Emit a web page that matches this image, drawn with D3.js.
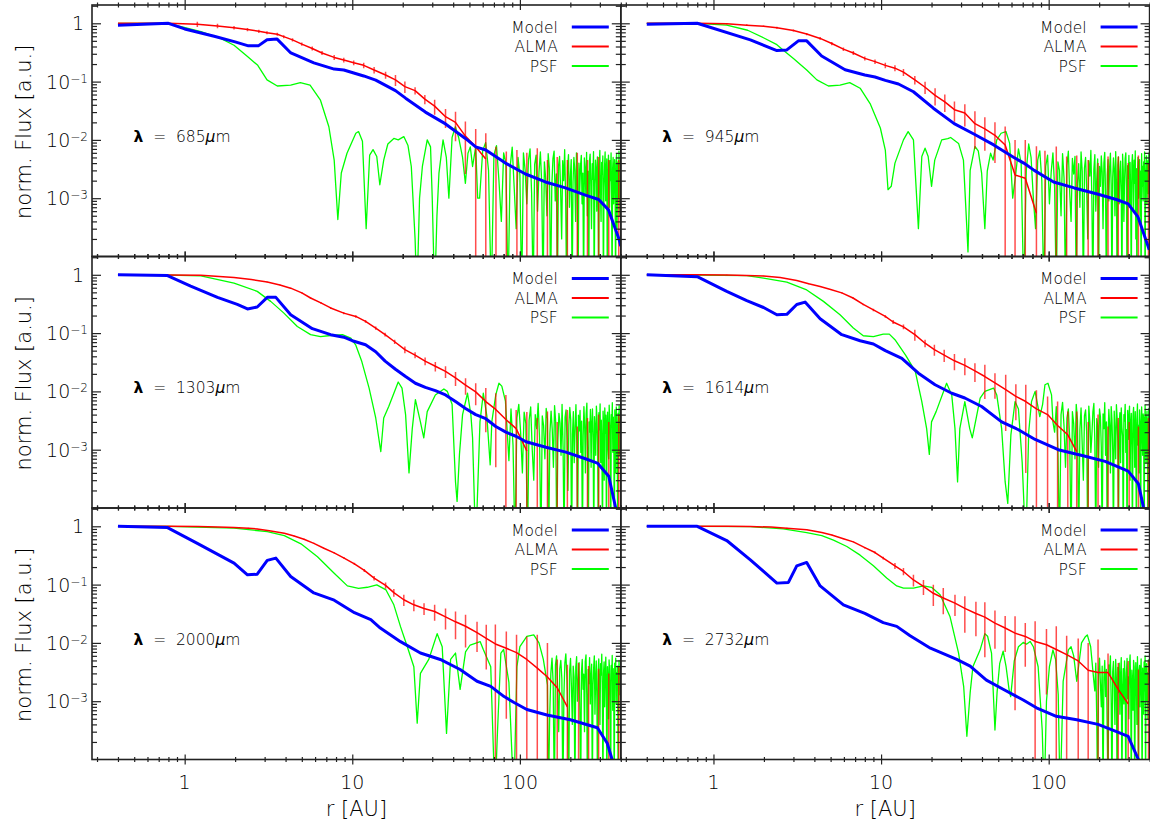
<!DOCTYPE html>
<html>
<head>
<meta charset="utf-8">
<script src="https://cdn.jsdelivr.net/npm/d3@7"></script>
<style>
  body { margin: 0; background: #fff; }
  text { font-family: "DejaVu Sans", "Liberation Sans", sans-serif; font-weight: 200; fill: #000; }
</style>
</head>
<body>
<svg id="chart" width="1150" height="826"></svg>
<script>
// ---------------------------------------------------------------------------
// Radial profiles of a disk at six ALMA wavelengths.
// Each profile point is [r in AU, normalised flux]; ALMA points carry a 1-sigma error.
// ---------------------------------------------------------------------------

const wavelengths = [685, 945, 1303, 1614, 2000, 2732]; // micron
const legendLabels = ["Model", "ALMA", "PSF"];
const xMajorTicks = [1, 10, 100];
const xTickLabels = ["1", "10", "100"];
const yMajorTicks = [1, 0.1, 0.01, 0.001];
const yTickExponents = [0, -1, -2, -3];

// ---- Model (blue) ----
const model685 = [[0.4,0.93],[0.8,1.0],[1.0,0.8],[1.5,0.6],[2.0,0.48],[2.4,0.41],[2.75,0.41],[3.1,0.52],[3.55,0.54],[4.3,0.31],[5.9,0.21],[7.8,0.164],[8.9,0.158],[11.7,0.125],[13.8,0.106],[18.1,0.07],[20.8,0.052],[27.3,0.030],[36,0.0188],[47.3,0.0106],[54.5,0.0076],[62.6,0.0067],[82,0.0040],[108,0.0026],[142,0.0019],[187,0.0015],[246,0.00113],[295,0.00095],[338,0.00063],[390,0.0002],[400,0.00015]];
const model945 = [[0.4,0.96],[0.8,1.0],[1.66,0.52],[2.39,0.34],[2.74,0.35],[3.21,0.5],[3.6,0.5],[4.42,0.275],[6.1,0.16],[8.0,0.13],[9.2,0.12],[10.6,0.105],[12.7,0.091],[15.6,0.067],[20.5,0.035],[27.3,0.019],[36,0.0125],[47,0.0082],[62,0.005],[71,0.004],[82,0.003],[107,0.0019],[142,0.0015],[195,0.00118],[256,0.00094],[298,0.0008],[341,0.00048],[398,0.00013]];
const model1303 = [[0.4,1.0],[0.79,0.97],[1.086,0.64],[1.57,0.41],[2.06,0.31],[2.37,0.26],[2.71,0.28],[3.11,0.41],[3.5,0.41],[4.29,0.206],[5.78,0.119],[7.43,0.094],[8.9,0.085],[10.0,0.074],[12,0.063],[13.8,0.048],[15.7,0.033],[18.1,0.024],[20.8,0.018],[23.8,0.0138],[27.3,0.0117],[31.3,0.0103],[36,0.0087],[41.3,0.0067],[47.4,0.0051],[54.5,0.004],[62.6,0.0034],[71.8,0.0025],[82.5,0.002],[94.8,0.0017],[108.8,0.00137],[143,0.0011],[188,0.00091],[246,0.0007],[290,0.00059],[339,0.00035],[373,0.0001],[385,0.00005]];
const model1614 = [[0.4,1.0],[0.8,0.93],[1.2,0.52],[1.58,0.36],[1.99,0.275],[2.39,0.206],[2.74,0.21],[3.14,0.31],[3.52,0.34],[4.33,0.176],[5.83,0.094],[7.5,0.074],[9.0,0.065],[10.6,0.05],[13.3,0.037],[16.7,0.0205],[21,0.013],[26.4,0.0093],[31.6,0.0077],[39.8,0.0055],[52.4,0.003],[66,0.0022],[83,0.0015],[114,0.001],[165,0.00077],[217,0.00063],[298,0.00043],[343,0.00026],[366,0.00011],[380,0.00005]];
const model2000 = [[0.4,1.0],[0.79,0.95],[1.19,0.51],[1.97,0.234],[2.37,0.147],[2.71,0.151],[3.11,0.26],[3.5,0.285],[4.29,0.138],[5.9,0.072],[7.8,0.054],[10.3,0.033],[12.9,0.025],[14.7,0.018],[19.4,0.0105],[25.5,0.0067],[33.5,0.0052],[44,0.0035],[55.5,0.0022],[67,0.0018],[80.5,0.0012],[92.3,0.00095],[110,0.00072],[145,0.00058],[200,0.00048],[290,0.00035],[332,0.00019],[355,0.0001],[370,0.00005]];
const model2732 = [[0.4,1.0],[0.8,1.0],[1.2,0.57],[1.66,0.266],[2.39,0.106],[2.8,0.109],[3.14,0.21],[3.6,0.24],[4.33,0.095],[5.96,0.045],[8.0,0.032],[10.3,0.0223],[12.4,0.0192],[14.9,0.0133],[19.7,0.0081],[28.3,0.0052],[34,0.004],[42.5,0.0023],[53.5,0.0016],[70.5,0.00105],[84.5,0.00077],[111,0.00055],[147,0.00048],[197,0.0004],[254,0.0003],[298,0.00025],[343,0.0001],[360,0.00005]];

// ---- ALMA (red): [r, flux, sigma]; negative fluxes are off the log axis ----
const alma685 = [[0.4,1.0,0],[0.8,1.0,0],[1.19,0.96,0.1],[1.57,0.9,0.08],[1.97,0.84,0.06],[2.37,0.78,0.05],[2.77,0.73,0.045],[3.1,0.69,0.04],[3.57,0.65,0.04],[3.9,0.59,0.035],[4.4,0.52,0.035],[5.0,0.44,0.03],[5.77,0.37,0.03],[6.6,0.31,0.025],[7.8,0.26,0.025],[8.9,0.235,0.022],[10.2,0.21,0.02],[11.7,0.19,0.02],[13.5,0.158,0.02],[15.8,0.13,0.018],[18.1,0.107,0.023],[20.6,0.082,0.018],[23.7,0.07,0.01],[27.1,0.05,0.009],[31,0.038,0.011],[36,0.025,0.009],[41.3,0.02,0.0105],[47.3,0.0116,0.009],[54.5,0.0076,0.0078],[62.6,0.0047,0.0083],[72,-0.001,0.0086],[83,-0.001,0.0073],[96,-0.001,0.0077],[110,-0.001,0.007],[127,-0.001,0.0082],[146,-0.001,0.0055],[167,-0.001,0.0061],[192,-0.001,0.0055],[220,-0.001,0.007],[253,-0.001,0.0055],[295,-0.001,0.0061],[339,-0.001,0.0055],[389,-0.001,0.0055]];
const alma945 = [[0.4,1.0,0],[0.8,1.0,0],[1.2,0.98,0.03],[1.58,0.93,0.03],[1.99,0.89,0.03],[2.39,0.84,0.03],[3.0,0.75,0.03],[3.6,0.655,0.03],[4.33,0.55,0.03],[5.08,0.45,0.03],[5.96,0.36,0.025],[6.83,0.31,0.025],[8.0,0.25,0.02],[9.2,0.22,0.02],[10.6,0.19,0.02],[12.1,0.17,0.02],[13.6,0.145,0.02],[15.9,0.107,0.018],[18.3,0.08,0.019],[21,0.058,0.019],[24,0.045,0.015],[27.4,0.033,0.0125],[31.6,0.029,0.012],[36.3,0.019,0.012],[41.6,0.0155,0.009],[47.8,0.012,0.008],[55,0.0082,0.0088],[63,0.0025,0.0075],[72.5,0.0022,0.0078],[84.5,0.00055,0.0072],[95,-0.001,0.0075],[111,-0.001,0.0087],[128,-0.001,0.0062],[147,-0.001,0.0064],[172,-0.001,0.0055],[197,-0.001,0.005],[226,-0.001,0.0062],[260,-0.001,0.0062],[298,-0.001,0.005],[343,-0.001,0.0064],[394,-0.001,0.005]];
const alma1303 = [[0.4,1.0,0],[0.8,0.99,0],[1.25,0.98,0.01],[1.97,0.9,0.01],[2.5,0.83,0.01],[3.11,0.75,0.01],[3.7,0.67,0.01],[4.29,0.59,0.01],[5.0,0.49,0.01],[5.64,0.4,0.01],[6.5,0.33,0.01],[7.43,0.27,0.01],[8.9,0.22,0.01],[10.5,0.193,0.01],[12,0.159,0.008],[13.8,0.122,0.008],[15.7,0.094,0.007],[17.9,0.071,0.006],[20.6,0.052,0.007],[23.7,0.042,0.005],[27.2,0.033,0.005],[31.3,0.027,0.005],[36,0.022,0.005],[41.3,0.017,0.0046],[47.4,0.0128,0.004],[54.5,0.0098,0.004],[62.6,0.0067,0.0047],[71.8,0.0049,0.0044],[82.5,0.0033,0.0054],[95,0.0023,0.0025],[110,0.00095,0.0035],[127,-0.001,0.0045],[146,-0.001,0.0055],[167,-0.001,0.004],[192,-0.001,0.0058],[220,-0.001,0.0035],[253,-0.001,0.0045],[295,-0.001,0.005],[339,-0.001,0.004],[389,-0.001,0.005]];
const alma1614 = [[0.4,1.0,0],[0.8,1.0,0],[1.2,0.99,0.01],[1.58,0.97,0.01],[1.99,0.95,0.01],[2.5,0.9,0.01],[3.14,0.8,0.01],[3.7,0.7,0.01],[4.33,0.63,0.01],[5.0,0.56,0.01],[5.83,0.49,0.01],[6.8,0.4,0.01],[7.83,0.31,0.01],[9.0,0.25,0.012],[10.6,0.193,0.01],[11.8,0.155,0.012],[13.6,0.128,0.012],[15.9,0.094,0.02],[18.3,0.067,0.01],[20.8,0.052,0.011],[23.8,0.042,0.01],[27.4,0.0335,0.0105],[31.6,0.028,0.009],[36.3,0.0225,0.008],[41.6,0.018,0.0106],[47.8,0.014,0.0065],[55.4,0.0107,0.0086],[63.7,0.0082,0.005],[73,0.0067,0.0063],[84.5,0.005,0.0055],[98.5,0.004,0.0042],[113,0.0026,0.0041],[130,0.0018,0.0027],[147,0.00093,0.0036],[172,-0.001,0.004],[197,-0.001,0.005],[226,-0.001,0.0035],[260,-0.001,0.0045],[302,-0.001,0.004],[343,-0.001,0.0035],[394,-0.001,0.0045]];
const alma2000 = [[0.4,1.0,0],[0.8,1.0,0],[1.2,0.99,0],[1.58,0.97,0],[1.97,0.95,0.01],[2.4,0.93,0.01],[2.71,0.9,0.01],[3.2,0.84,0.01],[3.93,0.76,0.01],[4.5,0.68,0.01],[5.15,0.6,0.01],[5.9,0.51,0.01],[6.77,0.42,0.01],[7.8,0.35,0.01],[8.94,0.285,0.01],[10.3,0.227,0.01],[11.8,0.175,0.01],[13.5,0.129,0.012],[15.8,0.097,0.012],[17.7,0.073,0.011],[20.3,0.055,0.012],[23.3,0.045,0.01],[26.8,0.039,0.009],[31,0.0345,0.0105],[36,0.028,0.011],[41.3,0.023,0.0115],[47.4,0.0193,0.011],[55.5,0.015,0.008],[63,0.012,0.0085],[71.4,0.0096,0.011],[83,0.0081,0.0076],[95.5,0.0068,0.007],[110,0.0052,0.0077],[127,0.0037,0.0101],[146,0.0026,0.0074],[167,0.0017,0.0035],[192,0.0008,0.0034],[224,-0.001,0.0055],[257,-0.001,0.005],[295,-0.001,0.0046],[339,-0.001,0.004],[389,-0.001,0.005]];
const alma2732 = [[0.4,1.0,0],[0.8,1.0,0],[1.2,1.0,0.005],[1.66,0.99,0.005],[2.2,0.97,0.005],[2.74,0.93,0.01],[3.6,0.87,0.01],[4.43,0.78,0.01],[5.08,0.71,0.01],[5.96,0.61,0.01],[6.83,0.54,0.01],[8.0,0.43,0.012],[9.2,0.355,0.015],[10.3,0.285,0.015],[12.1,0.21,0.024],[13.6,0.168,0.024],[15.6,0.12,0.027],[17.9,0.093,0.027],[20.5,0.071,0.028],[23.5,0.059,0.028],[27.6,0.048,0.019],[31.6,0.039,0.024],[36.8,0.032,0.019],[41.6,0.0277,0.022],[47.8,0.0219,0.014],[55,0.018,0.011],[63,0.0147,0.014],[72.5,0.0129,0.009],[83,0.0106,0.013],[97,0.0093,0.008],[111,0.0077,0.0116],[128,0.0063,0.007],[150,0.0049,0.007],[172,0.0034,0.0066],[197,0.0031,0.0083],[226,0.0031,0.0035],[260,0.0016,0.0029],[298,0.0009,0.004],[343,-0.001,0.0045],[394,-0.001,0.006]];

// ---- PSF (green): resolved core and first rings ----
const psf685 = [[0.4,1.0],[0.8,1.0],[1.25,0.72],[1.64,0.55],[1.97,0.42],[2.37,0.27],[2.73,0.19],[3.1,0.107],[3.57,0.084],[4.29,0.087],[4.9,0.096],[5.6,0.087],[6.46,0.048],[7.25,0.0168],[7.8,0.0045],[8.2,0.00043],[8.6,0.0027],[9.3,0.0059],[10.5,0.013],[10.9,0.0139],[11.5,0.0095],[12.1,0.0003],[12.7,0.0055],[13.3,0.0068],[14.0,0.0052],[14.6,0.0017],[15.4,0.0045],[16.3,0.0085],[17.7,0.0106],[18.8,0.01],[20.3,0.0114],[21.5,0.008],[22.5,0.0035],[23.7,0.0002],[24.3,-0.001],[25.2,0.001],[26.2,0.0035],[28,0.01],[29.3,0.0076],[30,0.001],[31,-0.001],[32,0.0005],[32.9,0.0027],[34.8,0.01],[36.4,0.005],[37.7,0.001],[39.4,0.011],[41.2,0.0168],[43.1,0.011],[45.5,0.005],[47.3,0.0018],[49,0.0059],[50.6,0.0076],[52.2,0.0035],[54.5,0.0076],[56,0.001]];
const psf945 = [[0.4,1.0],[0.8,1.0],[1.2,0.93],[1.6,0.76],[2.0,0.56],[2.39,0.43],[2.6,0.35],[3.0,0.25],[3.6,0.158],[4.14,0.107],[4.85,0.084],[5.69,0.087],[6.5,0.096],[7.5,0.077],[8.6,0.042],[9.9,0.016],[10.6,0.0067],[11.0,0.0014],[11.5,0.0016],[12.1,0.004],[13.6,0.01],[14.5,0.0139],[15.6,0.01],[16.7,0.0003],[17.5,0.0052],[18.3,0.0072],[19.1,0.0052],[20,0.0016],[20.9,0.0045],[23,0.01],[25,0.0105],[26,0.011],[29,0.0087],[31,0.0045],[32.5,0.0003],[33,0.00012],[34,0.003],[36.3,0.0077],[38,0.0065],[39.8,0.0027],[41.6,0.0003],[43,0.0029],[45,0.0059],[46.6,0.0045],[49,0.01],[52,0.013],[55.6,0.0139],[58.5,0.0087],[61,0.001]];
const psf1303 = [[0.4,1.0],[0.8,0.99],[1.25,0.96],[1.97,0.72],[2.71,0.52],[3.26,0.35],[3.91,0.22],[4.7,0.13],[5.64,0.094],[6.46,0.087],[7.43,0.091],[8.73,0.094],[9.8,0.082],[10.5,0.062],[11.4,0.0325],[12.6,0.0114],[13.8,0.0035],[14.8,0.00093],[15.4,0.0035],[16.5,0.0055],[18.8,0.0145],[19.8,0.0114],[20.8,0.004],[21.8,0.0004],[22.8,0.0023],[23.8,0.0072],[25.5,0.003],[26.7,0.0016],[28,0.0045],[31.3,0.0087],[35.2,0.011],[36.9,0.01],[39.4,0.006],[41.3,0.00028],[42.2,0.00013],[43.6,0.00083],[45.5,0.004],[48.7,0.0093],[51,0.004],[52.2,0.0016],[54.5,-0.001],[57.8,0.003],[60.5,0.0093],[63.5,0.0038],[66.5,0.00055],[68,0.003],[71.8,0.0087],[75,0.0138],[78,0.0123],[82,0.0068],[86,0.00065]];
const psf1614 = [[0.4,1.0],[0.8,0.99],[1.58,0.97],[1.99,0.88],[2.74,0.75],[3.6,0.55],[4.53,0.35],[5.69,0.206],[6.83,0.122],[7.83,0.09],[9.0,0.087],[10.3,0.096],[11.2,0.096],[12.1,0.077],[14,0.042],[16,0.022],[17.5,0.0067],[18.7,0.0023],[19.4,0.00083],[20,0.003],[21.3,0.0045],[24.6,0.0138],[26.4,0.0087],[27.6,0.0023],[28.6,0.00028],[29.5,0.0023],[31.6,0.0067],[33.8,0.0023],[35,0.0016],[36.3,0.0027],[39,0.0077],[41.6,0.01],[46.9,0.0114],[49,0.0087],[52.4,0.0023],[55,0.00028],[57,0.00012],[59.5,0.0018],[63,0.0067],[66,0.005],[69.5,0.0006],[73,-0.001],[76,0.002],[79,0.0067],[83,0.01],[88.5,0.0037],[92,0.006],[95,0.013],[99,0.0138],[104,0.0087],[106,0.003]];
const psf2000 = [[0.4,1.0],[0.8,1.0],[1.97,0.93],[3.11,0.81],[3.93,0.69],[4.94,0.5],[6.2,0.3],[7.8,0.157],[9.35,0.095],[10.9,0.086],[12.3,0.09],[14,0.099],[15.9,0.081],[17.7,0.045],[19.4,0.019],[21.3,0.0086],[23.3,0.0039],[24.4,0.00042],[25.5,0.003],[28.6,0.0052],[32.1,0.0144],[34.4,0.0086],[36.5,0.00028],[38.6,0.0052],[41.3,0.0067],[44,0.0016],[47.4,0.007],[50.5,0.0092],[58,0.0105],[60.5,0.0077],[67,0.0039],[71,-0.001],[73.5,0.0003],[77,0.0067],[80,0.0077],[86,0.0021],[92,-0.001],[96,0.0039],[100,0.0086],[110,0.0129],[121,0.0137],[130,0.01],[138,0.0052],[146,0.0019],[148,-0.001]];
const psf2732 = [[0.4,1.0],[0.8,1.0],[1.66,0.99],[2.61,0.9],[3.6,0.78],[4.43,0.69],[5.2,0.58],[6.25,0.45],[7.5,0.32],[9.0,0.21],[10.8,0.13],[12.4,0.095],[13.6,0.087],[15.6,0.087],[17.9,0.095],[20,0.09],[22.5,0.067],[25.8,0.028],[29,0.0067],[31.1,0.0018],[32.5,0.00025],[34,0.0014],[35.3,0.0039],[39,0.0076],[41.6,0.0144],[43.2,0.013],[45.6,0.0067],[47.8,0.00032],[49.2,0.0014],[51,0.0044],[53.5,0.0072],[55.7,0.0039],[58,0.0016],[59.3,0.0012],[62.3,0.0049],[66,0.0086],[70.5,0.0102],[73.7,0.0095],[77.5,0.0106],[81,0.0086],[86.5,0.0039],[91.5,0.00032],[94,-0.001],[97,0.001],[101,0.0039],[106,0.0076],[110,0.0052],[114,0.0013],[117,-0.001],[122,0.0022],[131,0.0076],[136,0.0086],[141,0.006],[147,0.0022],[157,0.01],[166,0.0129],[170,0.0137],[178,0.0086],[186,0.0022]];

// ---- PSF noise floor: flux x 1e-3, sampled every PSF_STEP AU from psfTailStart ----
const PSF_STEP = 2.5;
const psfTailStart = [57.5, 63.5, 88.5, 108.5, 150.5, 188.5];
const psfTail685 = [1.0,6.5,9.0,3.0,-1.0,5.5,8.0,2.0,0.4,6.0, 4.0,-2.0,3.5,7.5,1.5,0.3,5.0,2.5,-1.5,6.0, 3.0,0.8,4.5,7.0,1.2,-0.8,3.8,5.5,0.6,2.8, 6.2,1.8,-1.2,4.2,2.2,0.5,5.8,3.2,-0.5,1.6, 4.8,6.4,0.9,2.6,-2.2,3.6,5.2,1.4,0.2,4.4, 2.0,6.8,1.0,-1.0,3.4,5.6,0.7,2.4,4.6,-0.4, 1.9,5.0,3.0,0.4,6.0,2.2,-1.6,4.0,1.3,3.6, 5.4,0.8,2.7,-0.9,4.9,3.3,1.1,6.1,0.5,2.9, -1.8,4.3,5.7,1.6,0.3,3.9,2.1,6.3,-0.7,1.7, 4.5,3.1,0.6,5.1,2.3,-1.3,3.7,6.6,1.2,0.4, 4.1,2.6,5.3,-0.2,1.5,3.5,6.2,0.9,2.8,4.7, -1.1,1.8,5.5,3.0,0.7,4.4,2.0,6.0,1.1,-0.6, 3.2,5.0,0.8,2.5,4.6,1.4,-1.4,3.8,5.8,0.3, 2.2,4.2,1.0,6.4,2.7,0.5,3.6,5.2];
const psfTail945 = [2.5,7.0,4.0,-0.5,3.0,8.5,5.0,1.0,0.3,4.5, 6.5,2.0,-1.5,3.5,5.5,0.8,2.8,6.0,1.5,-0.8, 4.2,3.0,0.5,5.8,2.2,-2.0,3.6,6.4,1.2,0.4, 4.8,2.6,5.2,-0.6,1.8,3.9,0.7,6.2,2.9,-1.2, 3.3,5.0,1.4,0.2,4.4,2.4,6.6,1.0,-0.4,3.1, 5.6,0.6,2.1,4.7,-1.7,3.5,1.6,5.3,2.8,0.3, 4.0,6.1,1.1,-1.0,2.5,4.6,0.9,3.4,5.9,1.7, -0.3,2.3,4.9,3.2,0.5,6.3,1.9,-1.5,3.7,5.1, 0.8,2.6,4.3,1.3,-0.9,5.7,3.0,0.4,2.0,4.8, 6.0,1.5,-0.2,3.6,2.2,5.4,0.7,4.1,1.2,-1.9, 3.9,5.6,2.7,0.6,4.5,1.8,6.5,0.2,3.2,-0.7, 2.4,5.0,1.0,3.8,4.6,0.5,2.9,-1.1,5.8,1.6, 3.5,0.9,4.2,2.1,6.2,-0.5,1.4,3.1,5.3,0.8, 2.6,4.4,1.2,5.9,2.0,0.4];
const psfTail1303 = [5.0,1.2,-0.8,3.5,6.0,2.0,0.4,4.4,2.8,-1.5, 3.2,5.4,1.0,0.3,4.0,2.3,6.2,1.6,-0.6,3.8, 2.6,0.7,5.1,3.4,-1.2,1.9,4.6,2.2,0.5,5.7, 3.0,-0.3,1.4,4.2,2.9,0.8,6.0,1.1,-1.8,3.6, 4.8,1.5,0.2,2.7,5.3,3.3,-0.9,1.8,4.5,0.6, 2.4,5.9,1.3,-0.4,3.9,2.1,4.7,0.9,3.1,-1.4, 1.7,5.5,2.5,0.4,4.1,6.3,1.0,-0.7,3.0,2.0, 4.9,0.5,2.8,5.0,1.6,-1.1,3.7,2.4,0.8,5.6, 3.5,1.2,-0.2,4.3,2.2,6.1,0.6,3.2,1.4,-1.6, 4.6,2.7,0.3,5.2,1.9,3.9,-0.5,2.6,4.4,1.1, 0.7,5.8,3.3,1.8,-1.0,4.0,2.5,6.4,0.9,3.6, 1.5,-0.8,4.8,2.3,0.4,5.4,3.0,1.3,-0.3,4.2, 2.0,5.7,0.8,3.4,1.6,4.5];
const psfTail1614 = [2.0,5.5,1.0,-1.0,4.0,6.5,2.5,0.5,3.5,5.0, 1.5,-0.5,4.5,2.8,0.7,6.0,3.2,-1.4,2.2,5.2, 1.2,0.3,3.8,4.8,2.0,-0.8,5.6,3.0,0.9,1.8, 4.4,6.2,1.4,-1.2,3.4,2.6,0.5,5.0,3.7,1.1, -0.3,4.1,2.3,6.4,0.8,3.0,-1.7,1.6,4.9,2.7, 0.4,5.5,3.3,1.0,-0.6,4.6,2.1,0.7,5.9,3.6, 1.3,-1.0,2.9,4.3,0.6,5.2,2.4,1.7,-0.4,4.0, 3.1,6.0,0.9,2.2,-1.3,4.7,1.5,3.5,5.6,0.3, 2.8,4.2,1.1,-0.7,3.9,5.3,2.0,0.5,4.5,1.9, -1.5,3.2,6.1,1.2,2.6,0.4,4.8,3.0,-0.2,1.7, 5.4,2.3,0.8,4.1,3.6,-0.9,1.4,5.8,2.5,0.6, 3.3,4.6,1.0,-0.4,2.9,5.1,1.8,3.7];
const psfTail2000 = [0.5,3.0,5.5,2.0,-1.0,4.2,6.0,1.5,0.3,3.6, 5.0,2.4,-0.6,1.2,4.5,6.5,2.8,0.6,-1.5,3.3, 5.4,1.8,0.4,4.0,2.6,-0.8,3.8,5.8,1.0,2.2, 4.6,0.7,-1.2,3.1,5.2,1.6,2.9,0.3,4.8,6.2, 1.3,-0.4,3.5,2.0,5.6,0.9,2.7,4.3,-1.6,1.9, 3.7,6.0,0.6,2.4,4.9,1.1,-0.7,3.2,5.3,2.1, 0.4,4.4,2.8,6.4,1.4,-1.1,3.0,4.7,0.8,2.5, 5.7,1.7,-0.3,3.9,2.2,0.5,5.1,3.4,1.2,-0.9, 4.1,2.6,6.1,0.7,3.6,1.5,-1.3,4.5,2.0,5.5, 0.9,3.1,1.8,4.0,-0.5,2.4,5.0,1.3,3.5,0.6, 4.2];
const psfTail2732 = [1.5,4.5,0.5,-1.0,3.0,5.5,2.0,0.8,4.0,-0.5, 2.5,5.0,1.2,3.5,0.3,-1.5,4.2,2.8,6.0,1.0, -0.7,3.2,4.8,1.8,0.4,5.2,2.4,-1.2,3.8,1.4, 4.5,0.6,2.9,5.6,-0.3,1.7,3.6,0.9,4.9,2.2, -0.9,3.0,5.4,1.1,2.6,0.5,4.3,6.2,1.6,-1.4, 3.4,2.0,0.7,5.0,3.9,-0.6,1.3,4.6,2.5,0.4, 5.8,1.9,-1.1,3.3,4.1,0.8,2.7,5.3,1.2,-0.2, 3.7,2.3,0.6,4.7,1.5,6.0,-0.8,2.9,4.4,1.0, 3.1,0.5,5.1,2.1,4.0];

// ---------------------------------------------------------------------------
const panels = [
  { lam: wavelengths[0], model: model685,  alma: alma685,  psf: psf685,  tail: psfTail685,  tailStart: psfTailStart[0] },
  { lam: wavelengths[1], model: model945,  alma: alma945,  psf: psf945,  tail: psfTail945,  tailStart: psfTailStart[1] },
  { lam: wavelengths[2], model: model1303, alma: alma1303, psf: psf1303, tail: psfTail1303, tailStart: psfTailStart[2] },
  { lam: wavelengths[3], model: model1614, alma: alma1614, psf: psf1614, tail: psfTail1614, tailStart: psfTailStart[3] },
  { lam: wavelengths[4], model: model2000, alma: alma2000, psf: psf2000, tail: psfTail2000, tailStart: psfTailStart[4] },
  { lam: wavelengths[5], model: model2732, alma: alma2732, psf: psf2732, tail: psfTail2732, tailStart: psfTailStart[5] }
];

// layout
const plotLeft = 92, colW = 528.8, plotTop = 5, rowH = 251.5;
const COLORS = { model: "#0000ff", alma: "#ff0000", psf: "#00ff00", axis: "#222" };

const xS = d3.scaleLog().domain([0.28, 400]).range([0, colW]);
const yS = d3.scaleLog().domain([1e-4, 2.06]).range([rowH, 0]);
const yOf = f => (f > 0 ? yS(f) : rowH + 40);   // non-positive flux drops off the axis
const isPow10 = v => Math.abs(Math.log10(v) - Math.round(Math.log10(v))) < 1e-9;

const xMinor = xS.ticks().filter(v => !isPow10(v));
const yMinor = yS.ticks().filter(v => !isPow10(v));

const svg = d3.select("#chart");
const defs = svg.append("defs");
defs.append("clipPath").attr("id", "plotClip")
  .append("rect").attr("x", 0).attr("y", 0).attr("width", colW).attr("height", rowH);

const profileLine = d3.line().x(d => xS(d[0])).y(d => yOf(d[1]));
const almaLine = d3.line().defined(d => d[1] > 0).x(d => xS(d[0])).y(d => yS(d[1]));

panels.forEach((p, i) => {
  const col = i % 2, row = Math.floor(i / 2);
  const g = svg.append("g")
    .attr("transform", `translate(${plotLeft + col * colW},${plotTop + row * rowH})`);

  const plot = g.append("g").attr("clip-path", "url(#plotClip)");

  // PSF: core + rings, then the sampled noise floor
  const psfAll = p.psf.concat(p.tail.map((v, k) => [p.tailStart + k * PSF_STEP, v * 1e-3]));
  plot.append("path").datum(psfAll)
    .attr("d", profileLine)
    .attr("fill", "none").attr("stroke", COLORS.psf)
    .attr("stroke-width", 1.3).attr("stroke-linejoin", "round");

  // ALMA error bars
  plot.append("g").selectAll("line")
    .data(p.alma.filter(d => d[2] > 0))
    .join("line")
    .attr("x1", d => xS(d[0])).attr("x2", d => xS(d[0]))
    .attr("y1", d => yOf(d[1] - d[2]))
    .attr("y2", d => yOf(d[1] + d[2]))
    .attr("stroke", COLORS.alma).attr("stroke-opacity", 0.7).attr("stroke-width", 1.5);

  // ALMA profile
  plot.append("path").datum(p.alma)
    .attr("d", almaLine)
    .attr("fill", "none").attr("stroke", COLORS.alma)
    .attr("stroke-width", 1.5).attr("stroke-linejoin", "round");

  // Model profile
  plot.append("path").datum(p.model)
    .attr("d", profileLine)
    .attr("fill", "none").attr("stroke", COLORS.model)
    .attr("stroke-width", 3).attr("stroke-linejoin", "round");

  // ---- axes: y ticks point inward, x ticks straddle the frame ----
  const tickGroup = (axis) => {
    const a = g.append("g").attr("color", COLORS.axis).call(axis);
    a.select(".domain").remove();
    a.selectAll(".tick line").attr("stroke-width", 1.2);
    return a;
  };
  tickGroup(d3.axisLeft(yS).tickValues(yMajorTicks).tickSize(-9).tickFormat(""));
  tickGroup(d3.axisLeft(yS).tickValues(yMinor).tickSize(-5).tickFormat(""));
  tickGroup(d3.axisRight(yS).tickValues(yMajorTicks).tickSize(-9).tickFormat("")).attr("transform", `translate(${colW},0)`);
  tickGroup(d3.axisRight(yS).tickValues(yMinor).tickSize(-5).tickFormat("")).attr("transform", `translate(${colW},0)`);
  [0, rowH].forEach(yy => {
    tickGroup(d3.axisTop(xS).tickValues(xMajorTicks).tickSize(5).tickFormat("")).attr("transform", `translate(0,${yy})`);
    tickGroup(d3.axisBottom(xS).tickValues(xMajorTicks).tickSize(5).tickFormat("")).attr("transform", `translate(0,${yy})`);
    tickGroup(d3.axisTop(xS).tickValues(xMinor).tickSize(2.5).tickFormat("")).attr("transform", `translate(0,${yy})`);
    tickGroup(d3.axisBottom(xS).tickValues(xMinor).tickSize(2.5).tickFormat("")).attr("transform", `translate(0,${yy})`);
  });

  g.append("rect").attr("x", 0).attr("y", 0).attr("width", colW).attr("height", rowH)
    .attr("fill", "none").attr("stroke", COLORS.axis).attr("stroke-width", 1.6);

  // y tick labels on the left column
  if (col === 0) {
    yMajorTicks.forEach((v, k) => {
      const e = yTickExponents[k];
      const t = g.append("text").attr("text-anchor", "end")
        .attr("font-size", 19).attr("y", yS(v) + 7);
      if (e === 0) {
        t.attr("x", -8).text("1");
      } else {
        t.attr("x", -4).text("10");
        t.append("tspan").attr("dy", -6).attr("font-size", 12).text("\u2212" + Math.abs(e));
      }
    });
    g.append("text")
      .attr("transform", `translate(${31 - plotLeft},${rowH / 2 + 1}) rotate(-90)`)
      .attr("text-anchor", "middle").attr("font-size", 21)
      .text("norm. Flux [a.u.]");
  }

  // x tick labels and title on the bottom row
  if (row === 2) {
    xMajorTicks.forEach((v, k) => {
      g.append("text").attr("x", xS(v)).attr("y", rowH + 29)
        .attr("text-anchor", "middle").attr("font-size", 19).text(xTickLabels[k]);
    });
    g.append("text").attr("x", colW / 2).attr("y", rowH + 56.5)
      .attr("text-anchor", "middle").attr("font-size", 21).text("r [AU]");
  }

  // wavelength label
  const lab = g.append("text").attr("x", 41.5).attr("y", 136.5)
    .attr("font-size", 15.5).style("white-space", "pre");
  lab.append("tspan").attr("font-weight", "bold").text("\u03bb");
  lab.append("tspan").text("  =  " + p.lam);
  lab.append("tspan").attr("font-style", "italic").text("\u03bc");
  lab.append("tspan").text("m");

  // legend
  const legendStyle = [
    { color: COLORS.model, width: 3 },
    { color: COLORS.alma, width: 2 },
    { color: COLORS.psf, width: 2 }
  ];
  legendLabels.forEach((name, k) => {
    const ly = 22 + k * 19.5;
    g.append("text").attr("x", colW - 63).attr("y", ly + 5.5)
      .attr("text-anchor", "end").attr("font-size", 15.5).text(name);
    g.append("line").attr("x1", colW - 49).attr("x2", colW - 12)
      .attr("y1", ly).attr("y2", ly)
      .attr("stroke", legendStyle[k].color).attr("stroke-width", legendStyle[k].width);
  });
});
</script>
</body>
</html>
